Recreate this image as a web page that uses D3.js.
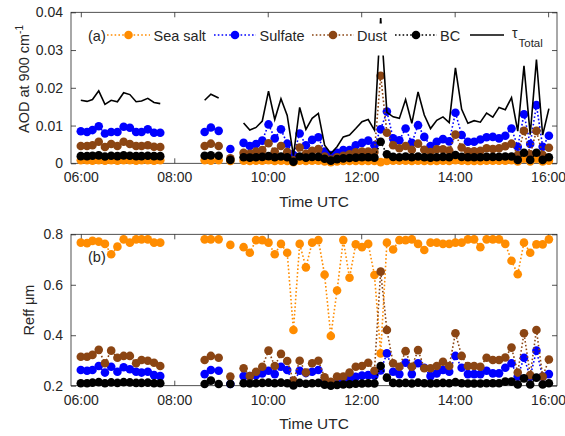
<!DOCTYPE html>
<html>
<head>
<meta charset="utf-8">
<script src="https://cdn.jsdelivr.net/npm/d3@7"></script>
<style>
  body { margin: 0; background: #fff; }
  text { font-family: "Liberation Sans", Arial, sans-serif; fill: #262626; }
</style>
</head>
<body>
<svg width="565" height="436"></svg>
<script>
var times = ["06:00","06:08","06:15","06:23","06:31","06:39","06:47","06:55","07:03","07:11","07:18","07:26","07:34","07:42",
  "08:39","08:47","08:57",
  "09:12",
  "09:29","09:37","09:45","09:53","10:01","10:09","10:17","10:25","10:33","10:41",
  "10:49","10:57","11:05","11:13","11:21","11:29","11:37","11:45","11:53","12:01",
  "12:09","12:17","12:25","12:33","12:41","12:49","12:57","13:05","13:13","13:21",
  "13:29","13:37","13:45","13:53","14:01","14:09","14:17","14:25","14:33","14:41",
  "14:49","14:57","15:05","15:13","15:21","15:29","15:37","15:45","15:53","16:01"];

var aodSeaSalt = [0.0008,0.0008,0.0007,0.0008,0.0007,0.0008,0.0007,0.0008,0.0008,0.0007,0.0008,0.0008,0.0007,0.0008,
  0.0008,0.0007,0.0008,
  0.0006,
  0.0007,0.0006,0.0007,0.0007,0.0008,0.0006,0.0007,0.0006,0.0003,0.0007,
  0.0006,0.0007,0.0007,0.0005,0.0003,0.0005,0.0006,0.0006,0.0006,0.0006,
  0.0006,0.0006,0.0003,0.0006,0.0007,0.0007,0.0007,0.0006,0.0007,0.0006,
  0.0006,0.0006,0.0007,0.0006,0.0008,0.0007,0.0006,0.0006,0.0006,0.0007,
  0.0007,0.0007,0.0007,0.0008,0.0005,0.0012,0.0005,0.0012,0.0005,0.0007];
var aodSulfate = [0.0085,0.0083,0.0088,0.0098,0.0079,0.0083,0.0083,0.0097,0.0094,0.0083,0.0083,0.0090,0.0081,0.0081,
  0.0083,0.0095,0.0086,
  0.0038,
  0.0054,0.0046,0.0051,0.0060,0.0103,0.0066,0.0090,0.0052,0.0022,0.0079,
  0.0048,0.0062,0.0069,0.0031,0.0022,0.0028,0.0035,0.0035,0.0048,0.0054,
  0.0060,0.0048,0.0090,0.0137,0.0066,0.0061,0.0092,0.0054,0.0101,0.0070,
  0.0046,0.0057,0.0064,0.0058,0.0134,0.0075,0.0057,0.0057,0.0063,0.0069,
  0.0070,0.0066,0.0073,0.0092,0.0044,0.0130,0.0051,0.0154,0.0044,0.0073];
var aodDust = [0.0046,0.0046,0.0048,0.0057,0.0043,0.0051,0.0046,0.0057,0.0051,0.0046,0.0046,0.0048,0.0044,0.0043,
  0.0046,0.0052,0.0046,
  0.0013,
  0.0028,0.0025,0.0031,0.0035,0.0053,0.0031,0.0046,0.0030,0.0008,0.0042,
  0.0025,0.0033,0.0038,0.0018,0.0010,0.0016,0.0020,0.0024,0.0029,0.0031,
  0.0031,0.0030,0.0232,0.0081,0.0048,0.0040,0.0046,0.0036,0.0052,0.0036,
  0.0030,0.0037,0.0037,0.0034,0.0076,0.0042,0.0032,0.0032,0.0033,0.0040,
  0.0038,0.0040,0.0045,0.0052,0.0022,0.0086,0.0024,0.0086,0.0022,0.0041];
var aodBC = [0.0019,0.0019,0.0020,0.0021,0.0018,0.0020,0.0019,0.0021,0.0020,0.0019,0.0019,0.0020,0.0019,0.0019,
  0.0020,0.0021,0.0020,
  0.0009,
  0.0016,0.0015,0.0016,0.0017,0.0019,0.0016,0.0018,0.0016,0.0004,0.0018,
  0.0015,0.0017,0.0017,0.0012,0.0007,0.0011,0.0013,0.0014,0.0015,0.0016,
  0.0016,0.0015,0.0057,0.0024,0.0017,0.0016,0.0018,0.0016,0.0018,0.0016,
  0.0015,0.0016,0.0017,0.0016,0.0022,0.0017,0.0016,0.0016,0.0016,0.0017,
  0.0017,0.0017,0.0018,0.0018,0.0009,0.0028,0.0009,0.0028,0.0009,0.0016];
var aodTotal = [0.0167,0.0164,0.0169,0.0192,0.0156,0.0167,0.0163,0.0187,0.0182,0.0163,0.0165,0.0172,0.0161,0.0158,
  0.0167,0.0183,0.0173,
  null,
  0.0107,0.0088,0.0095,0.0112,0.0191,0.0116,0.0171,0.0127,0.0020,0.0148,
  0.0090,0.0119,0.0132,0.0048,0.0026,0.0044,0.0070,0.0075,0.0092,0.0110,
  0.0116,0.0088,0.0385,0.0135,0.0123,0.0119,0.0169,0.0106,0.0189,0.0128,
  0.0092,0.0114,0.0123,0.0108,0.0253,0.0143,0.0106,0.0113,0.0109,0.0133,
  0.0122,0.0148,0.0142,0.0174,0.0085,0.0258,0.0076,0.0275,0.0075,0.0145];

var reffSeaSalt = [0.767,0.765,0.774,0.771,0.762,0.721,0.751,0.780,0.767,0.780,0.780,0.780,0.767,0.767,
  0.780,0.780,0.780,
  0.758,
  0.749,0.727,0.777,0.777,0.767,0.721,0.762,0.727,0.421,0.762,
  0.669,0.767,0.777,0.640,0.397,0.577,0.777,0.628,0.760,0.749,
  0.762,0.639,0.328,0.767,0.740,0.777,0.777,0.780,0.762,0.738,
  0.767,0.767,0.762,0.762,0.767,0.767,0.780,0.780,0.749,0.780,
  0.780,0.780,0.762,0.695,0.642,0.767,0.727,0.760,0.760,0.780];
var reffSulfate = [0.262,0.259,0.262,0.278,0.252,0.275,0.255,0.273,0.265,0.255,0.252,0.255,0.242,0.238,
  0.246,0.262,0.259,
  0.207,
  0.238,0.238,0.242,0.249,0.259,0.246,0.275,0.262,0.210,0.259,
  0.250,0.255,0.262,0.220,0.203,0.215,0.220,0.225,0.235,0.240,
  0.242,0.240,0.260,0.328,0.255,0.246,0.291,0.246,0.289,0.271,
  0.238,0.249,0.262,0.255,0.318,0.271,0.246,0.246,0.246,0.259,
  0.249,0.249,0.271,0.289,0.236,0.311,0.236,0.339,0.236,0.246];
var reffDust = [0.315,0.315,0.322,0.342,0.289,0.339,0.311,0.318,0.318,0.289,0.302,0.299,0.291,0.278,
  0.302,0.318,0.311,
  0.236,
  0.269,0.238,0.255,0.275,0.339,0.278,0.326,0.298,0.220,0.299,
  0.252,0.289,0.299,0.233,0.215,0.236,0.236,0.252,0.275,0.278,
  0.291,0.259,0.652,0.421,0.289,0.275,0.337,0.275,0.341,0.269,
  0.269,0.278,0.295,0.278,0.408,0.318,0.278,0.278,0.275,0.311,
  0.302,0.302,0.312,0.351,0.252,0.408,0.242,0.421,0.236,0.304];
var reffBC = [0.210,0.210,0.212,0.214,0.210,0.213,0.211,0.214,0.213,0.211,0.211,0.212,0.210,0.210,
  0.207,0.220,0.207,
  0.207,
  0.210,0.209,0.210,0.211,0.212,0.210,0.212,0.210,0.201,0.211,
  0.208,0.210,0.211,0.204,0.200,0.203,0.205,0.206,0.208,0.209,
  0.210,0.209,0.278,0.232,0.211,0.210,0.211,0.209,0.212,0.210,
  0.209,0.210,0.211,0.210,0.214,0.210,0.209,0.209,0.209,0.210,
  0.210,0.210,0.216,0.216,0.205,0.229,0.205,0.232,0.205,0.210];

var xTicks = ["06:00","08:00","10:00","12:00","14:00","16:00"];
var aodTicks = [0, 0.01, 0.02, 0.03, 0.04];
var reffTicks = [0.2, 0.4, 0.6, 0.8];

var cOrange = "#ff8c00", cBlue = "#0000ff", cBrown = "#8b4513", cBlack = "#000000";
var markerR = 4.3;

function toHours(s) {
  var p = s.split(":");
  return +p[0] + p[1] / 60;
}
var hrs = times.map(toHours);

// split the record where the time step jumps (no dotted line across gaps)
var segments = [[0]];
for (var i = 1; i < hrs.length; i++) {
  if (hrs[i] - hrs[i - 1] > 0.2) segments.push([]);
  segments[segments.length - 1].push(i);
}

var svg = d3.select("svg");
svg.append("rect").attr("width", 565).attr("height", 436).attr("fill", "#fff");

var x = d3.scaleLinear().domain([5.79, 16.19]).range([71, 557]);

function drawPanel(top, bottom, yDomain, yTicks, yFmt, series) {
  var y = d3.scaleLinear().domain(yDomain).range([bottom, top]);
  var g = svg.append("g");

  var xt = xTicks.map(toHours);
  g.append("g").attr("transform", "translate(0," + bottom + ")")
    .call(d3.axisBottom(x).tickValues(xt).tickFormat(function(d, i) { return xTicks[i]; })
      .tickSizeInner(-5).tickSizeOuter(0).tickPadding(9));
  g.append("g").attr("transform", "translate(0," + top + ")")
    .call(d3.axisTop(x).tickValues(xt).tickFormat("").tickSizeInner(-5).tickSizeOuter(0));
  g.append("g").attr("transform", "translate(71,0)")
    .call(d3.axisLeft(y).tickValues(yTicks).tickFormat(yFmt).tickSizeInner(-5).tickSizeOuter(0).tickPadding(8));
  g.append("g").attr("transform", "translate(557,0)")
    .call(d3.axisRight(y).tickValues(yTicks).tickFormat("").tickSizeInner(-5).tickSizeOuter(0));

  g.selectAll(".domain").remove();
  g.selectAll(".tick line").attr("stroke", "#262626").attr("stroke-width", 0.8);
  g.selectAll(".tick text").attr("font-size", "14px").attr("fill", "#262626")
    .style("font-family", "'Liberation Sans', Arial, sans-serif");

  g.append("rect").attr("x", 71).attr("y", top).attr("width", 486).attr("height", bottom - top)
    .attr("fill", "none").attr("stroke", "#262626").attr("stroke-width", 0.8);

  var line = d3.line()
    .defined(function(i) { return i.v != null; })
    .x(function(i) { return x(i.t); })
    .y(function(i) { return y(i.v); });

  series.forEach(function(s) {
    segments.forEach(function(seg) {
      var pts = seg.map(function(i) { return {t: hrs[i], v: s.values[i]}; });
      g.append("path").datum(pts)
        .attr("d", line)
        .attr("fill", "none")
        .attr("stroke", s.color)
        .attr("stroke-width", 1.6)
        .attr("stroke-dasharray", s.dotted ? "1.6,2.2" : null);
    });
    if (s.marker) {
      g.selectAll(null)
        .data(hrs.map(function(t, i) { return {t: t, v: s.values[i]}; })
          .filter(function(d) { return d.v != null; }))
        .enter()
        .append("circle")
        .attr("cx", function(d) { return x(d.t); })
        .attr("cy", function(d) { return y(d.v); })
        .attr("r", markerR)
        .attr("fill", s.color);
    }
  });
  return g;
}

var top = drawPanel(12.3, 163.3, [0, 0.04], aodTicks, d3.format("~g"), [
  {name: "Sea salt", color: cOrange, values: aodSeaSalt, dotted: true, marker: true},
  {name: "Sulfate", color: cBlue, values: aodSulfate, dotted: true, marker: true},
  {name: "Dust", color: cBrown, values: aodDust, dotted: true, marker: true},
  {name: "BC", color: cBlack, values: aodBC, dotted: true, marker: true},
  {name: "Total", color: cBlack, values: aodTotal, dotted: false, marker: false}
]);

var bottom = drawPanel(234.3, 385.7, [0.2, 0.8], reffTicks, d3.format(".1f"), [
  {name: "Sea salt", color: cOrange, values: reffSeaSalt, dotted: true, marker: true},
  {name: "Sulfate", color: cBlue, values: reffSulfate, dotted: true, marker: true},
  {name: "Dust", color: cBrown, values: reffDust, dotted: true, marker: true},
  {name: "BC", color: cBlack, values: reffBC, dotted: true, marker: true}
]);

// legend (white box, no border)
var leg = svg.append("g");
leg.append("rect").attr("x", 80).attr("y", 23.5).attr("width", 472).attr("height", 32).attr("fill", "#fff");
leg.append("text").attr("x", 88).attr("y", 40.5).attr("font-size", "14.5px").text("(a)");

var legItems = [
  {label: "Sea salt", color: cOrange, x0: 107, x1: 150, tx: 153.5},
  {label: "Sulfate", color: cBlue, x0: 214, x1: 256, tx: 259.5},
  {label: "Dust", color: cBrown, x0: 312, x1: 354, tx: 357},
  {label: "BC", color: cBlack, x0: 395, x1: 437, tx: 440}
];
legItems.forEach(function(d) {
  leg.append("line").attr("x1", d.x0).attr("x2", d.x1).attr("y1", 35).attr("y2", 35)
    .attr("stroke", d.color).attr("stroke-width", 1.6).attr("stroke-dasharray", "1.6,2.2");
  leg.append("circle").attr("cx", (d.x0 + d.x1) / 2).attr("cy", 35).attr("r", markerR).attr("fill", d.color);
  leg.append("text").attr("x", d.tx).attr("y", 40.5).attr("font-size", "14.5px").text(d.label);
});
leg.append("line").attr("x1", 470).attr("x2", 504).attr("y1", 35).attr("y2", 35)
  .attr("stroke", cBlack).attr("stroke-width", 1.6);
var tau = leg.append("text").attr("x", 512).attr("y", 38).attr("font-size", "14px");
tau.append("tspan").text("τ");
tau.append("tspan").attr("x", 518.5).attr("y", 46.5).attr("font-size", "11.5px").text("Total");

svg.append("text").attr("x", 88).attr("y", 261.5).attr("font-size", "14.5px").text("(b)");

// axis titles
svg.append("text").attr("x", 314).attr("y", 207).attr("text-anchor", "middle")
  .attr("font-size", "15.4px").text("Time UTC");
svg.append("text").attr("x", 314).attr("y", 428.5).attr("text-anchor", "middle")
  .attr("font-size", "15.4px").text("Time UTC");

var yl1 = svg.append("text").attr("transform", "translate(28.5,133) rotate(-90)")
  .attr("font-size", "14.5px");
yl1.append("tspan").text("AOD at 900 cm");
yl1.append("tspan").attr("dy", -6).attr("font-size", "10px").text("-1");

svg.append("text").attr("transform", "translate(33.5,310) rotate(-90)")
  .attr("text-anchor", "middle").attr("font-size", "14.5px").text("Reff μm");
</script>
</body>
</html>
